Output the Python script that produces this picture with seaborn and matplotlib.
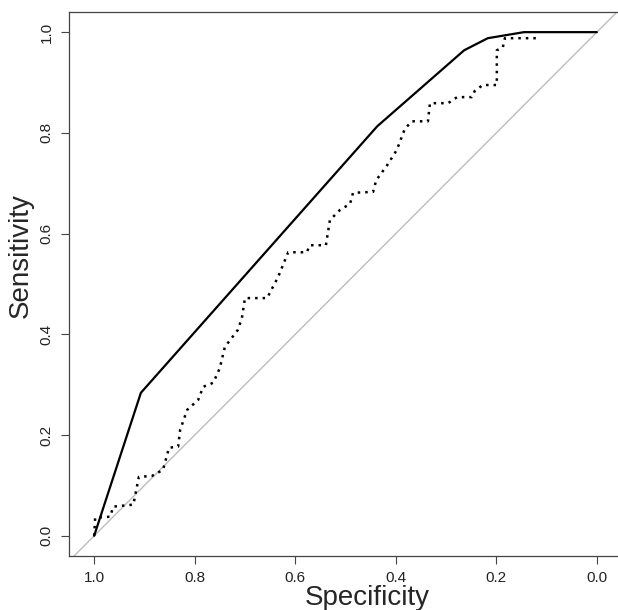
import pandas as pd
import matplotlib
matplotlib.use("Agg")
import matplotlib.pyplot as plt
import seaborn as sns

# ----------------------
# ROC curve data (specificity, sensitivity)
# ----------------------
smooth_spec = [1.000, 0.907, 0.437, 0.264, 0.217, 0.145, 0.000]
smooth_sens = [0.000, 0.284, 0.813, 0.964, 0.988, 1.000, 1.000]

step_spec = [1.000, 0.998, 0.968, 0.962, 0.922, 0.911, 0.885, 0.863, 0.851, 0.833,
             0.829, 0.815, 0.793, 0.783, 0.763, 0.750, 0.740, 0.714, 0.706, 0.700,
             0.656, 0.634, 0.614, 0.577, 0.571, 0.539, 0.531, 0.511, 0.491, 0.485,
             0.445, 0.439, 0.417, 0.398, 0.382, 0.368, 0.336, 0.332, 0.296, 0.278,
             0.249, 0.243, 0.227, 0.199, 0.199, 0.187, 0.183, 0.115]
step_sens = [0.000, 0.036, 0.038, 0.058, 0.062, 0.117, 0.119, 0.131, 0.175, 0.177,
             0.210, 0.250, 0.270, 0.296, 0.304, 0.333, 0.375, 0.409, 0.433, 0.472,
             0.472, 0.514, 0.563, 0.563, 0.577, 0.577, 0.627, 0.647, 0.659, 0.681,
             0.683, 0.706, 0.736, 0.766, 0.808, 0.823, 0.823, 0.859, 0.859, 0.871,
             0.871, 0.883, 0.895, 0.895, 0.964, 0.970, 0.988, 0.988]

ticks = [0.0, 0.2, 0.4, 0.6, 0.8, 1.0]
tick_labels = ["0.0", "0.2", "0.4", "0.6", "0.8", "1.0"]

smooth_df = pd.DataFrame({"Specificity": smooth_spec, "Sensitivity": smooth_sens})
step_df = pd.DataFrame({"Specificity": step_spec, "Sensitivity": step_sens})

# ----------------------
# Plotting
# ----------------------
sns.set_theme(style="white")
plt.rcParams["font.family"] = ["Liberation Sans", "DejaVu Sans"]

fig = plt.figure(figsize=(6.18, 6.10), dpi=100)
ax = fig.add_axes([69 / 618, 1 - 556 / 610, 553 / 618, 544 / 610])

# identity line
ax.axline((1, 0), (0, 1), color="#bdbdbd", lw=1.0, zorder=1)

sns.lineplot(data=smooth_df, x="Specificity", y="Sensitivity", sort=False,
             estimator=None, color="black", lw=1.6, ax=ax, zorder=3)
sns.lineplot(data=step_df, x="Specificity", y="Sensitivity", sort=False,
             estimator=None, color="black", lw=1.8, ax=ax, zorder=2,
             linestyle=(0, (1, 2.0)))

ax.set_xlim(1.05, -0.05)
ax.set_ylim(-0.04, 1.04)

ax.set_xticks(ticks)
ax.set_xticklabels(tick_labels, fontsize=11, color="#222222")
ax.set_yticks(ticks)
ax.set_yticklabels(tick_labels, fontsize=11, color="#222222", rotation=90, va="center")

ax.tick_params(axis="both", which="both", direction="out", length=6, width=0.8,
               color="#444444", bottom=True, left=True, pad=5)

ax.set_xlabel("Specificity", fontsize=20)
ax.set_ylabel("Sensitivity", fontsize=20)
ax.xaxis.set_label_coords(0.54, -0.054)
ax.yaxis.set_label_coords(-0.064, 0.553)

for side in ["left", "bottom", "top"]:
    ax.spines[side].set_color("#444444")
    ax.spines[side].set_linewidth(0.9)
ax.spines["right"].set_visible(False)

plt.savefig("out.png", dpi=100)
